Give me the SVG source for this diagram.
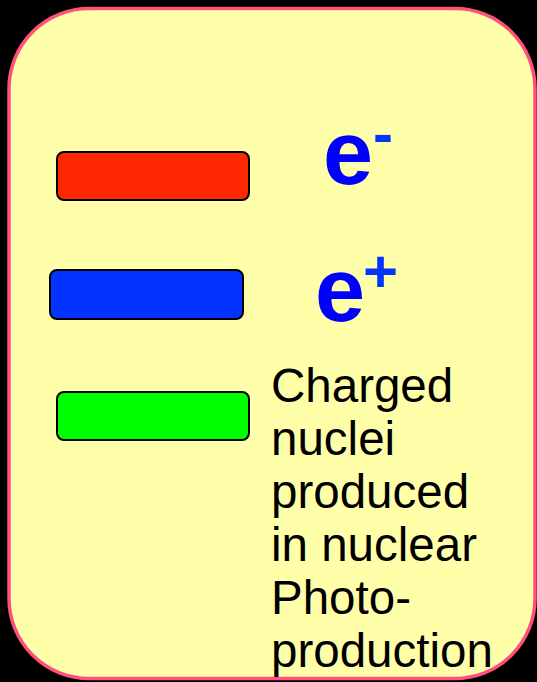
<svg xmlns="http://www.w3.org/2000/svg" width="537" height="682" viewBox="0 0 537 682">
<style>
.bar{stroke:#000;stroke-width:2}
.e{font-family:"Liberation Sans",Arial,sans-serif;font-weight:bold;fill:#0000FF}
.sup{font-family:"Liberation Sans",Arial,sans-serif;font-weight:bold;fill:#0433FF;font-size:60px}
.lbl{font-family:"Liberation Sans",Arial,sans-serif;font-size:47.5px;fill:#000}
</style>
<rect width="537" height="682" fill="#000"/>
<rect id="panel" x="9" y="8.5" width="526" height="670" rx="80" ry="80" fill="#FFFFAA" stroke="#FF4F7A" stroke-width="3.5"/>
<g id="electron">
<rect class="bar" x="57" y="152" width="192" height="48" rx="7" fill="#FF2600"/>
<text class="e" x="323" y="184" font-size="90">e</text>
<text class="sup" x="373" y="154">-</text>
</g>
<g id="positron">
<rect class="bar" x="50" y="270" width="193" height="49" rx="7" fill="#0433FF"/>
<text class="e" x="315" y="321" font-size="90">e</text>
<text class="sup" x="363" y="292">+</text>
</g>
<g id="nuclei">
<rect class="bar" x="57" y="392" width="192" height="48" rx="7" fill="#00FF00"/>
<text class="lbl" x="271">
<tspan x="271" y="401.7">Charged</tspan>
<tspan x="271" y="454.7">nuclei</tspan>
<tspan x="271" y="507.7">produced</tspan>
<tspan x="271" y="560.7">in nuclear</tspan>
<tspan x="271" y="613.7">Photo-</tspan>
<tspan x="271" y="666.7">production</tspan>
</text>
</g>
</svg>
